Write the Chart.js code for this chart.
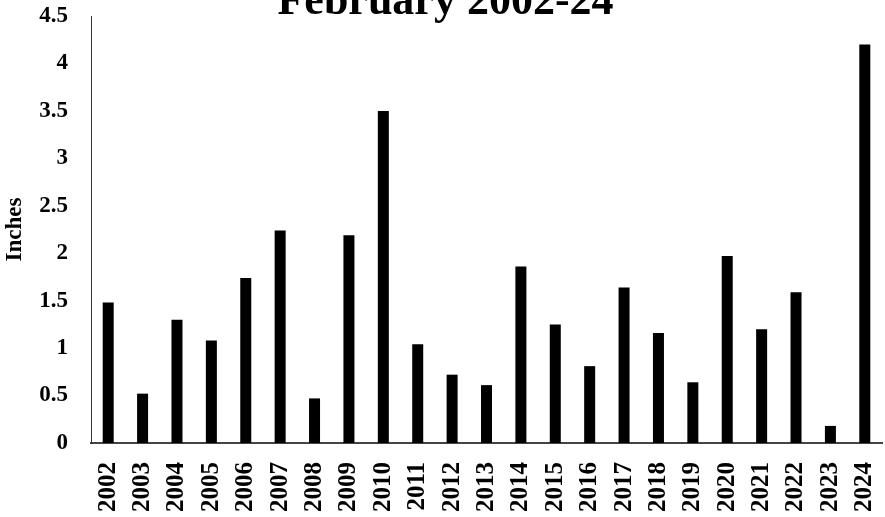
<!DOCTYPE html>
<html>
<head>
<meta charset="utf-8">
<title>February 2002-24</title>
<script src="https://cdn.jsdelivr.net/npm/chart.js@4.4.1/dist/chart.umd.min.js"></script>
<style>
  html, body { margin: 0; padding: 0; background: #fff; }
  #wrap { position: relative; width: 885px; height: 517px; }
</style>
</head>
<body>
<div id="wrap"><canvas id="chart"></canvas></div>
<script>
// values
const years = ['2002','2003','2004','2005','2006','2007','2008','2009','2010','2011','2012',
  '2013','2014','2015','2016','2017','2018','2019','2020','2021','2022','2023','2024'];
const inches = [1.48, 0.52, 1.30, 1.08, 1.74, 2.24, 0.47, 2.19, 3.50, 1.04, 0.72,
  0.61, 1.86, 1.25, 0.81, 1.64, 1.16, 0.64, 1.97, 1.20, 1.59, 0.18, 4.20];
const yMin = 0;
const yMax = 4.5;
const yStep = 0.5;
const chartTitle = 'February 2002-24';

const serif = '"Liberation Serif", "Times New Roman", serif';

// the title in the reference is cut by the top edge, so it is drawn by hand
const cutTitle = {
  id: 'cutTitle',
  afterDraw(chart) {
    const c = chart.ctx;
    c.save();
    c.font = 'bold 44px ' + serif;
    c.fillStyle = '#000';
    c.textAlign = 'center';
    c.textBaseline = 'alphabetic';
    c.fillText(chartTitle, chart.width / 2 + 3, 14);
    c.restore();
  }
};

const ctx = document.getElementById('chart');
new Chart(ctx, {
  type: 'bar',
  data: {
    labels: years,
    datasets: [{
      label: 'Inches',
      data: inches,
      backgroundColor: '#000',
      borderWidth: 0,
      categoryPercentage: 1,
      barPercentage: 0.32,
    }]
  },
  plugins: [cutTitle],
  options: {
    responsive: true,
    maintainAspectRatio: false,
    animation: false,
    layout: { padding: { top: 16, right: 3, bottom: 0, left: 0 } },
    plugins: {
      legend: { display: false },
      tooltip: { enabled: false },
      title: { display: false },
    },
    scales: {
      x: {
        grid: { display: false, drawTicks: false },
        border: { display: true, color: '#444', width: 2 },
        ticks: {
          color: '#000',
          font: { family: serif, size: 25, weight: 'bold' },
          minRotation: 90,
          maxRotation: 90,
          autoSkip: false,
          padding: 19,
        },
        afterFit: (scale) => {
          scale.height = 74;
          scale.paddingLeft = 0;
          scale.paddingRight = 0;
        },
      },
      y: {
        min: yMin,
        max: yMax,
        grid: { display: false, drawTicks: false },
        border: { display: true, color: '#333', width: 1 },
        ticks: {
          stepSize: yStep,
          color: '#000',
          font: { family: serif, size: 23, weight: 'bold' },
          padding: 23,
          callback: (v) => String(v),
        },
        title: {
          display: true,
          text: 'Inches',
          color: '#000',
          font: { family: serif, size: 23, weight: 'bold' },
          padding: { top: 1, bottom: 0 },
        },
        afterFit: (scale) => {
          scale.width = 91;
          scale.paddingTop = 0;
          scale.paddingBottom = 0;
        },
      },
    },
  }
});
</script>
</body>
</html>
